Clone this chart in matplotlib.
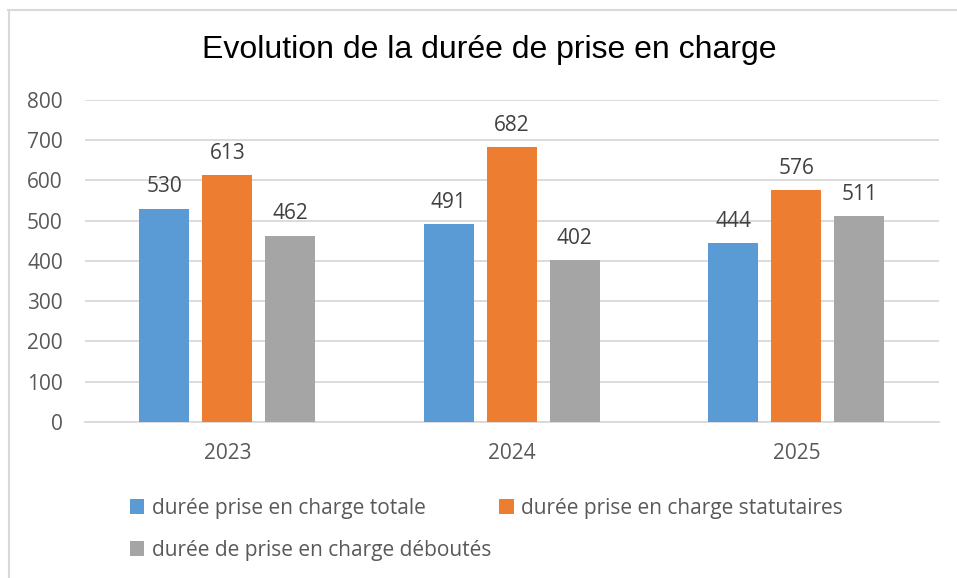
import matplotlib.pyplot as plt
import numpy as np
from matplotlib.lines import Line2D

years = ["2023", "2024", "2025"]
series_names = ["durée prise en charge totale",
                "durée prise en charge statutaires",
                "durée de prise en charge déboutés"]
totale = [530, 491, 444]
statutaires = [613, 682, 576]
deboutes = [462, 402, 511]
colors = ["#5B9BD5", "#ED7D31", "#A5A5A5"]

label_font = "Open Sans"
text_grey = "#595959"

fig = plt.figure(figsize=(9.57, 5.78), dpi=100)
ax = fig.add_axes([0.0888, 0.270, 0.892, 0.557])

x = np.arange(len(years))
width = 50 / 285
step = 63 / 285

handles = []
for i, (vals, name) in enumerate(zip([totale, statutaires, deboutes], series_names)):
    pos = x + (i - 1) * step
    bars = ax.bar(pos, vals, width=width, color=colors[i], label=name, zorder=3)
    handles.append(bars)
    for xp, v in zip(pos, vals):
        ax.text(xp, v + 55, str(v), ha="center", va="center",
                fontsize=15, color="#404040", family=label_font)

ax.set_xlim(-0.5, 2.5)
ax.set_ylim(0, 800)
ax.set_yticks(range(0, 801, 100))
ax.set_xticks(x)
ax.set_xticklabels(years)
ax.yaxis.grid(True, color="#D9D9D9", linewidth=1.3, zorder=0)
for s in ["top", "right", "left"]:
    ax.spines[s].set_visible(False)
ax.spines["bottom"].set_color("#D9D9D9")
ax.spines["bottom"].set_linewidth(1.3)
ax.tick_params(axis="both", length=0, labelsize=15, labelcolor=text_grey)
ax.tick_params(axis="x", pad=15)
ax.tick_params(axis="y", pad=16)
for lab in ax.get_xticklabels() + ax.get_yticklabels():
    lab.set_family(label_font)

fig.text(0.511, 0.914, "Evolution de la durée de prise en charge", ha="center", va="center",
         fontsize=23, family="Liberation Sans", color="black")

# column-first filling: totale / déboutés in column 1, statutaires in column 2
order = [0, 2, 1]
leg = fig.legend(handles=[handles[k] for k in order],
                 labels=[series_names[k] for k in order], loc="upper left",
                 bbox_to_anchor=(0.127, 0.153), ncol=2, frameon=False,
                 prop={"family": label_font, "size": 15},
                 handlelength=0.7, handleheight=0.7, handletextpad=0.35,
                 columnspacing=0.4, labelspacing=1.0, borderaxespad=0)
for t in leg.get_texts():
    t.set_color(text_grey)

# chart area border (only top and left visible in the crop)
fig.add_artist(Line2D([8 / 957, 1], [1 - 9.5 / 578, 1 - 9.5 / 578], color="#D9D9D9", linewidth=1.5))
fig.add_artist(Line2D([8.5 / 957, 8.5 / 957], [0, 1 - 9.5 / 578], color="#D9D9D9", linewidth=1.5))

fig.savefig("out.png", dpi=100)
